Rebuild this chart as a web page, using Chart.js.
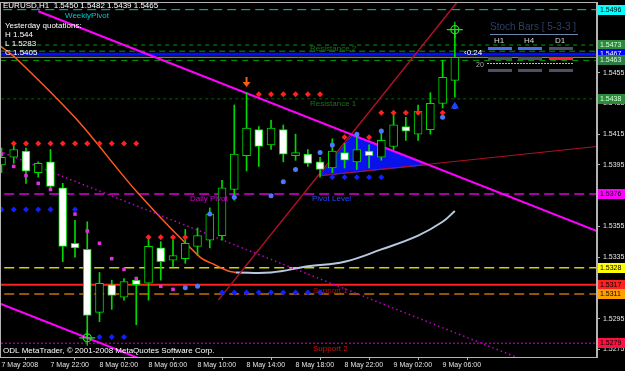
<!DOCTYPE html>
<html>
<head>
<meta charset="utf-8">
<script src="https://cdn.jsdelivr.net/npm/chart.js@4.4.1/dist/chart.umd.min.js"></script>
<style>
  html, body { margin: 0; padding: 0; background: #000; }
  canvas { display: block; }
</style>
</head>
<body>
<canvas id="chart" width="625" height="371"></canvas>
<script>
// EURUSD H1, bars from 7 May 18:00 to 9 May 07:00 (index 0..37)
const opens  = [1.5395, 1.5400, 1.5404, 1.5390, 1.5397, 1.5380, 1.5344, 1.5340, 1.5299, 1.5317,
                1.5309, 1.5320, 1.5318, 1.5341, 1.5333, 1.5334, 1.5342, 1.5346, 1.5349, 1.5379,
                1.5401, 1.5418, 1.5408, 1.5418, 1.5401, 1.5402, 1.5397, 1.5393, 1.5403, 1.5397,
                1.5404, 1.5400, 1.5407, 1.5420, 1.5415, 1.5418, 1.5435, 1.5450];
const highs  = [1.5406, 1.5408, 1.5406, 1.5397, 1.5405, 1.5383, 1.5359, 1.5358, 1.5325, 1.5320,
                1.5321, 1.5322, 1.5348, 1.5345, 1.5346, 1.5353, 1.5354, 1.5367, 1.5385, 1.5434,
                1.5442, 1.5420, 1.5424, 1.5421, 1.5415, 1.5405, 1.5400, 1.5412, 1.5409, 1.5415,
                1.5408, 1.5418, 1.5429, 1.5426, 1.5434, 1.5442, 1.5463, 1.5482];
const lows   = [1.5390, 1.5396, 1.5383, 1.5387, 1.5379, 1.5332, 1.5335, 1.5283, 1.5293, 1.5301,
                1.5307, 1.5291, 1.5307, 1.5320, 1.5329, 1.5331, 1.5336, 1.5341, 1.5346, 1.5372,
                1.5391, 1.5394, 1.5405, 1.5397, 1.5398, 1.5394, 1.5387, 1.5390, 1.5393, 1.5392,
                1.5393, 1.5398, 1.5405, 1.5411, 1.5411, 1.5415, 1.5432, 1.5439];
const closes = [1.5400, 1.5405, 1.5391, 1.5396, 1.5381, 1.5342, 1.5341, 1.5297, 1.5318, 1.5310,
                1.5319, 1.5317, 1.5342, 1.5332, 1.5336, 1.5344, 1.5349, 1.5363, 1.5380, 1.5402,
                1.5419, 1.5407, 1.5419, 1.5402, 1.5403, 1.5396, 1.5392, 1.5404, 1.5398, 1.5405,
                1.5401, 1.5411, 1.5421, 1.5417, 1.5430, 1.5435, 1.5452, 1.5465];

const tickBars = [0, 4, 8, 12, 16, 20, 24, 28, 32, 36];
const timeLabels = ['7 May 2008', '7 May 22:00', '8 May 02:00', '8 May 06:00', '8 May 10:00',
                    '8 May 14:00', '8 May 18:00', '8 May 22:00', '9 May 02:00', '9 May 06:00'];
const priceTicks = [1.5275, 1.5295, 1.5315, 1.5335, 1.5355, 1.5375, 1.5395, 1.5415, 1.5435, 1.5455];

// horizontal levels (pivot indicator + price lines)
const levelPrices = [1.5496, 1.5473, 1.5469, 1.5467, 1.5465, 1.5463, 1.5438, 1.5376, 1.5328, 1.5317, 1.5311, 1.5279];
const levelTags   = ['1.5496', '1.5473', '', '1.5467', '', '1.5463', '1.5438', '1.5376', '1.5328', '1.5317', '1.5311', '1.5279'];
const levelNames  = ['WeeklyPivot', 'Resistance 2', '', '', '', '', 'Resistance 1', 'Pivot Level', '', 'Support 1', '', 'Support 2'];

// trend lines (bar index, price)
const channelTopX = [3, 48.6],      channelTopY = [1.5495, 1.5352];
const channelLowX = [-0.2, 48.6],   channelLowY = [1.5305, 1.5152];
const dottedX = [-0.2, 48.6],       dottedY = [1.5404, 1.5249];
const redRayX = [17.7, 38.3],       redRayY = [1.5307, 1.5512];
const baseLineX = [26.0, 48.6],     baseLineY = [1.5388, 1.5407];
const triangleX = [26.0, 28.6, 34.65, 26.0], triangleY = [1.5388, 1.5414, 1.5395, 1.5388];
const orangeX = [-0.2, 1.1, 6.2, 11.1, 16.2, 17.4, 18.5, 19.1];
const orangeY = [1.5473, 1.5465, 1.5424, 1.5377, 1.5335, 1.5330, 1.5326, 1.5325];
const smoothX = [19.1, 22, 25, 28, 31, 34, 36, 37];
const smoothY = [1.5325, 1.5325, 1.5329, 1.5332, 1.5340, 1.5349, 1.5358, 1.5365];

// indicator dots
const redDotX = [1, 2, 3, 4, 5, 6, 7, 8, 9, 10, 11, 12, 13, 14, 15, 21, 22, 23, 24, 25, 26, 28, 30, 31, 32, 33, 34, 36];
const redDotY = [1.5409, 1.5409, 1.5409, 1.5409, 1.5409, 1.5409, 1.5409, 1.5409, 1.5409, 1.5409, 1.5409,
                 1.5348, 1.5348, 1.5348, 1.5348, 1.5441, 1.5441, 1.5441, 1.5441, 1.5441, 1.5441,
                 1.5413, 1.5413, 1.5429, 1.5429, 1.5429, 1.5429, 1.5429];
const blueDotX = [0, 1, 2, 3, 4, 6, 8, 9, 10, 18, 19, 20, 21, 22, 23, 24, 25, 26, 27, 28, 29, 30, 31];
const blueDotY = [1.5366, 1.5366, 1.5366, 1.5366, 1.5366, 1.5366, 1.5283, 1.5283, 1.5283,
                  1.5312, 1.5312, 1.5312, 1.5312, 1.5312, 1.5312, 1.5312, 1.5312, 1.5312,
                  1.5387, 1.5387, 1.5387, 1.5387, 1.5387];
const pinkDotX = [0, 1, 2, 3, 4, 6, 7, 8, 9, 10, 11, 13, 14];
const pinkDotY = [1.5402, 1.5394, 1.5388, 1.5383, 1.5379, 1.5363, 1.5352, 1.5344, 1.5334, 1.5327, 1.5321, 1.5316, 1.5314];
const skyDotX = [15, 16, 17, 19, 22, 23, 24, 26, 27, 29, 31, 36, 37];
const skyDotY = [1.5315, 1.5316, 1.5363, 1.5374, 1.5375, 1.5384, 1.5392, 1.5403, 1.5408, 1.5415, 1.5417, 1.5426, 1.5433];

// chart objects
const targetX = [7, 37], targetY = [1.52825, 1.5483];
const arrowDownX = 20, arrowDownY = 1.5447;

const GREEN = '#00d800';
const pts = (xs, ys) => xs.map((x, i) => ({ x: x, y: ys[i] }));

const levelLook = [
  { c: '#00c4c4', d: [9, 5], w: 1 },
  { c: '#00a000', d: [4, 4], w: 1 },
  { c: '#006c00', d: [6, 4], w: 1.5 },
  { c: '#0010ff', d: [], w: 3 },
  { c: '#9a9a9a', d: [], w: 1 },
  { c: '#00a000', d: [6, 5], w: 1 },
  { c: '#006400', d: [3, 3], w: 1 },
  { c: '#e000e0', d: [10, 5], w: 1.5 },
  { c: '#d4d400', d: [10, 5], w: 1.5 },
  { c: '#ff2020', d: [], w: 2 },
  { c: '#c87000', d: [10, 5], w: 1.5 },
  { c: '#c000c0', d: [1.5, 2.5], w: 1.5 },
];
const tagLook = ['#00ffff', '#2a8a3a', '', '#0000ff', '', '#2e7a44', '#2a8a3a', '#ff00ff', '#ffff00', '#ff2020', '#ffa000', '#ff1040'];
const nameLook = [
  { c: '#00c8d0', x: 65, dy: 2 },
  { c: '#1f6f1f', x: 310, dy: 0 },
  null, null, null, null,
  { c: '#1f6f1f', x: 310, dy: 1 },
  { c: '#2848ff', x: 312, dy: 1 },
  null,
  { c: '#a01010', x: 313, dy: 2 },
  null,
  { c: '#d01010', x: 313, dy: 2 },
];

const datasets = [];

datasets.push({
  type: 'line', order: 0, data: pts(redDotX, redDotY), showLine: false,
  pointStyle: 'rectRot', pointRadius: 3, pointBackgroundColor: '#ff2020', pointBorderWidth: 0,
});
datasets.push({
  type: 'line', order: 0, data: pts(blueDotX, blueDotY), showLine: false,
  pointStyle: 'rectRot', pointRadius: 3, pointBackgroundColor: '#1020ff', pointBorderWidth: 0,
});
datasets.push({
  type: 'line', order: 0, data: pts(pinkDotX, pinkDotY), showLine: false,
  pointStyle: 'rect', pointRadius: 2.5, pointBackgroundColor: '#e030d8', pointBorderWidth: 0,
});
datasets.push({
  type: 'line', order: 0, data: pts(skyDotX, skyDotY), showLine: false,
  pointStyle: 'circle', pointRadius: 2.5, pointBackgroundColor: '#4a78ff', pointBorderWidth: 0,
});

// candle bodies and wicks
datasets.push({
  type: 'bar', order: 1, grouped: false, barThickness: 8, minBarLength: 2,
  data: opens.map((o, i) => ({ x: i, y: [o, closes[i]] })),
  backgroundColor: opens.map((o, i) => closes[i] >= o ? '#000' : '#fff'),
  borderColor: GREEN, borderWidth: 1, borderSkipped: false,
});
datasets.push({
  type: 'bar', order: 2, grouped: false, barThickness: 1,
  data: lows.map((l, i) => ({ x: i, y: [l, highs[i]] })),
  backgroundColor: GREEN, borderWidth: 0,
});

// trend objects
datasets.push({ type: 'line', order: 3, data: pts(channelTopX, channelTopY), borderColor: '#ff00ff', borderWidth: 2, pointRadius: 0 });
datasets.push({ type: 'line', order: 3, data: pts(channelLowX, channelLowY), borderColor: '#ff00ff', borderWidth: 2, pointRadius: 0 });
datasets.push({ type: 'line', order: 3, data: pts(dottedX, dottedY), borderColor: '#c000c0', borderWidth: 1.5, borderDash: [1.5, 3], pointRadius: 0 });
datasets.push({ type: 'line', order: 3, data: pts(redRayX, redRayY), borderColor: '#b01028', borderWidth: 1.5, pointRadius: 0 });
datasets.push({ type: 'line', order: 3, data: pts(baseLineX, baseLineY), borderColor: '#b01028', borderWidth: 1, pointRadius: 0 });
datasets.push({ type: 'line', order: 3, data: pts(orangeX, orangeY), borderColor: '#ff5a20', borderWidth: 1.5, pointRadius: 0, tension: 0.3 });
datasets.push({ type: 'line', order: 3, data: pts(smoothX, smoothY), borderColor: '#b8c8e0', borderWidth: 2, pointRadius: 0, tension: 0.4 });
datasets.push({
  type: 'line', order: 4, data: pts(triangleX, triangleY), borderColor: '#2030ff', borderWidth: 1,
  backgroundColor: 'rgba(10,20,255,0.92)', fill: 'shape', pointRadius: 0,
});

levelPrices.forEach((p, i) => {
  datasets.push({
    type: 'line', order: 5, data: [{ x: -1, y: p }, { x: 60, y: p }],
    borderColor: levelLook[i].c, borderWidth: levelLook[i].w, borderDash: levelLook[i].d, pointRadius: 0,
  });
});

const overlay = {
  id: 'overlay',
  beforeDraw(chart) {
    const ctx = chart.ctx;
    ctx.save();
    ctx.fillStyle = '#000';
    ctx.fillRect(0, 0, chart.width, chart.height);
    ctx.restore();
  },
  afterDraw(chart) {
    const ctx = chart.ctx, a = chart.chartArea;
    const xs = chart.scales.x, ys = chart.scales.y;
    ctx.save();

    // frame
    ctx.strokeStyle = '#b4b4b4';
    ctx.lineWidth = 1;
    ctx.strokeRect(a.left + 0.5, a.top + 0.5, a.right - a.left - 1, a.bottom - a.top);

    // level names
    ctx.font = '8px "Liberation Sans"';
    ctx.textBaseline = 'top';
    ctx.textAlign = 'left';
    levelNames.forEach((n, i) => {
      if (!n) return;
      ctx.fillStyle = nameLook[i].c;
      ctx.fillText(n, nameLook[i].x, ys.getPixelForValue(levelPrices[i]) + nameLook[i].dy);
    });
    ctx.fillStyle = '#d800d8';
    ctx.fillText('Daily Pivot', 190, ys.getPixelForValue(levelPrices[7]) + 1);

    // price tags on the right axis
    ctx.font = '7px "Liberation Sans"';
    ctx.textBaseline = 'middle';
    levelTags.forEach((t, i) => {
      if (!t) return;
      const y = Math.round(ys.getPixelForValue(levelPrices[i]));
      ctx.fillStyle = tagLook[i];
      ctx.fillRect(a.right + 1, y - 5, 27, 10);
      ctx.fillStyle = tagLook[i] === '#0000ff' ? '#fff' : (tagLook[i].startsWith('#2') ? '#d8ffd8' : '#000');
      ctx.fillText(t, a.right + 3, y + 0.5);
    });

    // markers: targets and arrows
    targetX.forEach((bx, i) => {
      const x = xs.getPixelForValue(bx), y = ys.getPixelForValue(targetY[i]);
      ctx.strokeStyle = '#20e020';
      ctx.lineWidth = 1.2;
      ctx.beginPath(); ctx.arc(x, y, 4, 0, Math.PI * 2); ctx.stroke();
      ctx.beginPath();
      ctx.moveTo(x - 8, y); ctx.lineTo(x + 8, y);
      ctx.moveTo(x, y - 8); ctx.lineTo(x, y + 8);
      ctx.stroke();
    });
    {
      const x = xs.getPixelForValue(arrowDownX), y = ys.getPixelForValue(arrowDownY);
      ctx.strokeStyle = '#ff5a10';
      ctx.fillStyle = '#ff5a10';
      ctx.lineWidth = 2;
      ctx.beginPath(); ctx.moveTo(x, y - 8); ctx.lineTo(x, y); ctx.stroke();
      ctx.beginPath(); ctx.moveTo(x - 4, y - 3); ctx.lineTo(x, y + 2); ctx.lineTo(x + 4, y - 3); ctx.closePath(); ctx.fill();
    }
    {
      const x = xs.getPixelForValue(37), y = ys.getPixelForValue(1.5433);
      ctx.fillStyle = '#2040ff';
      ctx.beginPath(); ctx.moveTo(x, y - 5); ctx.lineTo(x - 4, y + 2); ctx.lineTo(x + 4, y + 2); ctx.closePath(); ctx.fill();
    }

    // text block top-left
    ctx.textBaseline = 'middle';
    ctx.font = '8px "Liberation Sans"';
    ctx.fillStyle = '#ffffff';
    ctx.fillText('EURUSD,H1  1.5450 1.5482 1.5439 1.5465', 3, 6);
    ctx.fillText('Yesterday quotations:', 5, 26);
    ctx.fillText('H 1.544', 5, 35);
    ctx.fillText('L 1.5283', 5, 44);
    ctx.fillText('C 1.5405', 5, 53);
    ctx.fillText('ODL MetaTrader, \u00a9 2001-2008 MetaQuotes Software Corp.', 3, 351);

    // Stoch Bars panel
    ctx.font = '10px "Liberation Sans"';
    ctx.fillStyle = '#2c3f68';
    ctx.fillText('Stoch Bars [ 5-3-3 ]', 490, 27);
    ctx.fillStyle = '#6a86b0';
    ctx.fillRect(490, 34, 88, 1);
    ctx.font = '8px "Liberation Sans"';
    ctx.fillStyle = '#d8d8d8';
    ctx.textAlign = 'center';
    ctx.fillText('H1', 499, 41);
    ctx.fillText('H4', 529, 41);
    ctx.fillText('D1', 560, 41);
    const cols = [488, 518, 549];
    const rows = [
      ['#4a6ee8', '#4a6ee8', '#4e4e64'],
      ['#4e4e64', '#4e4e64', '#ff2040'],
      ['#4e4e64', '#4e4e64', '#4e4e64'],
    ];
    const rowY = [47, 57, 69];
    rows.forEach((r, ri) => r.forEach((c, ci) => {
      ctx.fillStyle = c;
      ctx.fillRect(cols[ci], rowY[ri], 24, 3);
    }));
    ctx.fillStyle = '#9ec4e8';
    for (let x = 487; x < 574; x += 3) ctx.fillRect(x, 63, 2, 1);
    ctx.textAlign = 'left';
    ctx.font = '7px "Liberation Sans"';
    ctx.fillStyle = '#b0b0b0';
    ctx.fillText('20', 476, 65);
    ctx.fillStyle = '#ffffff';
    ctx.font = '8px "Liberation Sans"';
    ctx.fillText('\u20390.24', 464, 53);
    ctx.restore();
  },
};

new Chart(document.getElementById('chart'), {
  type: 'bar',
  data: { datasets },
  options: {
    responsive: false,
    animation: false,
    events: [],
    layout: { autoPadding: false, padding: { top: 2, left: 0, right: 0, bottom: 0 } },
    plugins: { legend: { display: false }, tooltip: { enabled: false } },
    scales: {
      x: {
        type: 'linear', min: -0.12, max: 48.6, offset: false,
        afterBuildTicks: (s) => { s.ticks = tickBars.map((v) => ({ value: v })); },
        afterFit: (s) => { s.height = 14; s.paddingLeft = 0; s.paddingRight = 0; },
        grid: { drawOnChartArea: false, drawTicks: true, tickLength: 3, color: '#b4b4b4' },
        border: { color: '#b4b4b4' },
        ticks: {
          autoSkip: false, maxRotation: 0, align: 'start', padding: 1, color: '#e4e4e4',
          font: { family: 'Liberation Sans', size: 7 },
          callback: (v, i) => timeLabels[i],
        },
      },
      y: {
        position: 'right', min: 1.5270, max: 1.5501,
        afterBuildTicks: (s) => { s.ticks = priceTicks.map((v) => ({ value: v })); },
        afterFit: (s) => { s.width = 28; s.paddingTop = 0; s.paddingBottom = 0; },
        grid: { drawOnChartArea: false, drawTicks: true, tickLength: 3, color: '#b4b4b4' },
        border: { color: '#b4b4b4' },
        ticks: {
          padding: 3, color: '#e4e4e4',
          font: { family: 'Liberation Sans', size: 7 },
          callback: (v) => v.toFixed(4),
        },
      },
    },
  },
  plugins: [overlay],
});
</script>
</body>
</html>
